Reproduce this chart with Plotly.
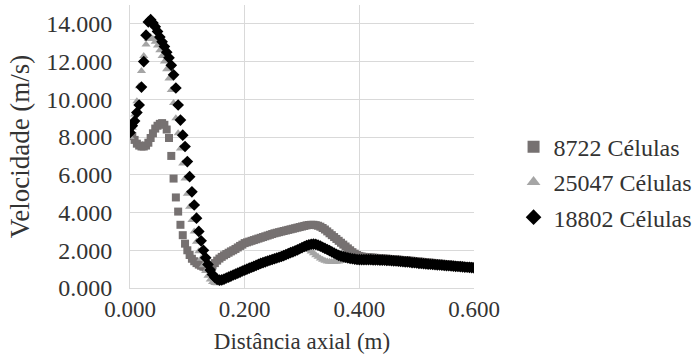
import plotly.graph_objects as go

x_axial = [0.000, 0.004, 0.008, 0.012, 0.016, 0.020, 0.024, 0.028, 0.032, 0.036,
           0.040, 0.044, 0.048, 0.052, 0.056, 0.060, 0.064, 0.068, 0.072, 0.076,
           0.080, 0.084, 0.088, 0.092, 0.096, 0.100, 0.104, 0.108, 0.112, 0.116,
           0.120, 0.124, 0.128, 0.132, 0.136, 0.140, 0.144, 0.148, 0.152, 0.156,
           0.160, 0.164, 0.168, 0.172, 0.176, 0.180, 0.184, 0.188, 0.192, 0.196,
           0.200, 0.204, 0.208, 0.212, 0.216, 0.220, 0.224, 0.228, 0.232, 0.236,
           0.240, 0.244, 0.248, 0.252, 0.256, 0.260, 0.264, 0.268, 0.272, 0.276,
           0.280, 0.284, 0.288, 0.292, 0.296, 0.300, 0.304, 0.308, 0.312, 0.316,
           0.320, 0.324, 0.328, 0.332, 0.336, 0.340, 0.344, 0.348, 0.352, 0.356,
           0.360, 0.364, 0.368, 0.372, 0.376, 0.380, 0.384, 0.388, 0.392, 0.396,
           0.400, 0.404, 0.408, 0.412, 0.416, 0.420, 0.424, 0.428, 0.432, 0.436,
           0.440, 0.444, 0.448, 0.452, 0.456, 0.460, 0.464, 0.468, 0.472, 0.476,
           0.480, 0.484, 0.488, 0.492, 0.496, 0.500, 0.504, 0.508, 0.512, 0.516,
           0.520, 0.524, 0.528, 0.532, 0.536, 0.540, 0.544, 0.548, 0.552, 0.556,
           0.560, 0.564, 0.568, 0.572, 0.576, 0.580, 0.584, 0.588, 0.592, 0.596,
           0.600]

v_8722 = [8.25, 8.05, 7.85, 7.65, 7.55, 7.5, 7.5, 7.55, 7.7, 7.95,
          8.2, 8.45, 8.6, 8.7, 8.74, 8.65, 8.4, 7.95, 7.0, 5.8,
          4.8, 4.05, 3.35, 2.8, 2.35, 2.0, 1.75, 1.55, 1.42, 1.32,
          1.24, 1.18, 1.13, 1.1, 1.1, 1.12, 1.2, 1.32, 1.45, 1.56,
          1.65, 1.73, 1.8, 1.87, 1.94, 2.0, 2.07, 2.15, 2.23, 2.3,
          2.38, 2.42, 2.46, 2.5, 2.54, 2.58, 2.62, 2.66, 2.7, 2.74,
          2.78, 2.82, 2.86, 2.9, 2.93, 2.96, 2.99, 3.02, 3.05, 3.08,
          3.11, 3.14, 3.17, 3.2, 3.23, 3.26, 3.29, 3.32, 3.34, 3.35,
          3.35, 3.33, 3.3, 3.25, 3.18, 3.1, 3.0, 2.9, 2.8, 2.7,
          2.6, 2.5, 2.4, 2.3, 2.2, 2.1, 2.0, 1.9, 1.82, 1.75,
          1.7, 1.67, 1.65, 1.64, 1.63, 1.62, 1.61, 1.6, 1.59, 1.58,
          1.57, 1.56, 1.55, 1.54, 1.53, 1.52, 1.51, 1.5, 1.49, 1.48,
          1.47, 1.46, 1.45, 1.44, 1.42, 1.41, 1.4, 1.39, 1.38, 1.36,
          1.35, 1.34, 1.33, 1.31, 1.3, 1.29, 1.28, 1.26, 1.25, 1.24,
          1.23, 1.21, 1.2, 1.19, 1.18, 1.17, 1.16, 1.15, 1.14, 1.13,
          1.12]

v_25047 = [8.0, 8.5, 9.2, 9.9, 10.7, 11.5, 12.3, 12.9, 13.2, 13.3,
           13.2, 13.05, 12.85, 12.6, 12.3, 12.0, 11.6, 11.1, 10.5, 9.8,
           9.0, 8.2, 7.4, 6.6, 5.8, 5.0, 4.3, 3.6, 3.0, 2.45,
           1.95, 1.55, 1.2, 0.9, 0.65, 0.45, 0.32, 0.26, 0.25, 0.29,
           0.35, 0.41, 0.46, 0.52, 0.57, 0.63, 0.68, 0.73, 0.78, 0.84,
           0.89, 0.94, 0.99, 1.04, 1.09, 1.14, 1.19, 1.24, 1.28, 1.33,
           1.37, 1.41, 1.45, 1.49, 1.53, 1.57, 1.61, 1.66, 1.71, 1.76,
           1.81, 1.86, 1.91, 1.96, 2.01, 2.05, 2.08, 2.07, 2.02, 1.94,
           1.84, 1.74, 1.65, 1.57, 1.5, 1.45, 1.41, 1.39, 1.38, 1.38,
           1.39, 1.41, 1.43, 1.45, 1.46, 1.47, 1.47, 1.48, 1.48, 1.48,
           1.48, 1.48, 1.48, 1.48, 1.48, 1.48, 1.47, 1.47, 1.47, 1.46,
           1.46, 1.45, 1.44, 1.44, 1.43, 1.42, 1.41, 1.4, 1.39, 1.38,
           1.37, 1.36, 1.35, 1.33, 1.32, 1.31, 1.29, 1.28, 1.27, 1.26,
           1.25, 1.24, 1.23, 1.22, 1.21, 1.2, 1.19, 1.18, 1.17, 1.16,
           1.15, 1.14, 1.13, 1.12, 1.11, 1.1, 1.09, 1.08, 1.07, 1.06,
           1.05]

v_18802 = [8.24, 8.6, 8.85, 9.3, 9.7, 10.65, 12.0, 13.4, 14.1, 14.22,
           14.05, 13.85, 13.6, 13.3, 13.05, 12.8, 12.5, 12.2, 11.8, 11.3,
           10.6, 9.7, 8.9, 8.1, 7.5, 6.7, 5.9, 5.1, 4.4, 3.7,
           3.0, 2.5, 2.0, 1.6, 1.25, 0.95, 0.72, 0.56, 0.46, 0.42,
           0.43, 0.47, 0.53, 0.58, 0.63, 0.69, 0.74, 0.79, 0.84, 0.9,
           0.95, 1.0, 1.05, 1.1, 1.15, 1.2, 1.25, 1.3, 1.34, 1.39,
           1.43, 1.47, 1.51, 1.55, 1.59, 1.63, 1.67, 1.72, 1.77, 1.82,
           1.87, 1.92, 1.97, 2.02, 2.08, 2.14, 2.2, 2.25, 2.29, 2.32,
           2.33, 2.31, 2.27, 2.22, 2.16, 2.1, 2.04, 1.98, 1.92, 1.85,
           1.79, 1.73, 1.69, 1.66, 1.63, 1.6, 1.57, 1.55, 1.53, 1.51,
           1.5, 1.5, 1.5, 1.5, 1.5, 1.5, 1.49, 1.49, 1.49, 1.48,
           1.48, 1.47, 1.46, 1.46, 1.45, 1.44, 1.43, 1.42, 1.41, 1.4,
           1.39, 1.38, 1.37, 1.35, 1.34, 1.33, 1.31, 1.3, 1.29, 1.28,
           1.27, 1.26, 1.25, 1.24, 1.23, 1.22, 1.21, 1.2, 1.19, 1.18,
           1.17, 1.16, 1.15, 1.14, 1.13, 1.12, 1.11, 1.1, 1.09, 1.08,
           1.07]

series_names = ["8722 Células", "25047 Células", "18802 Células"]
series_values = [v_8722, v_25047, v_18802]
series_symbols = ["square", "triangle-up", "diamond"]
series_colors = ["#767171", "#a5a5a5", "#000000"]
series_sizes = [8, 8, 9]

x_ticks = [0.0, 0.2, 0.4, 0.6]
y_ticks = [0, 2, 4, 6, 8, 10, 12, 14]

FONT = "Times New Roman, Liberation Serif, serif"
TXT = "#333333"

fig = go.Figure()
for i, (name, vals) in enumerate(zip(series_names, series_values)):
    fig.add_trace(go.Scatter(
        x=x_axial, y=vals, mode="markers", name=name, legendgroup=f"g{i}",
        marker=dict(symbol=series_symbols[i], color=series_colors[i],
                    size=series_sizes[i], line=dict(width=0)),
    ))

fig.update_layout(
    width=695, height=358,
    margin=dict(l=130, r=221, t=5, b=70, autoexpand=False),
    paper_bgcolor="white", plot_bgcolor="white",
    font=dict(family=FONT, size=23, color=TXT),
    showlegend=True,
    legend=dict(x=1.115, xanchor="left", y=0.374, yanchor="middle",
                font=dict(family=FONT, size=24, color=TXT),
                tracegroupgap=1, itemsizing="constant",
                bgcolor="rgba(0,0,0,0)"),
    xaxis=dict(range=[0, 0.6], tickvals=x_ticks, tickformat=".3f",
               showgrid=True, gridcolor="#d9d9d9", gridwidth=1,
               showline=True, linecolor="#d9d9d9", linewidth=1,
               zeroline=False, ticks="", automargin=False,
               title=dict(text="Distância axial (m)", standoff=12,
                          font=dict(family=FONT, size=23, color=TXT)),
               tickfont=dict(family=FONT, size=23, color=TXT)),
    yaxis=dict(range=[0, 15], tickvals=y_ticks, tickformat=".3f",
               showgrid=True, gridcolor="#d9d9d9", gridwidth=1,
               showline=True, linecolor="#d9d9d9", linewidth=1,
               zeroline=False, ticks="", automargin=False,
               ticklabelstandoff=12,
               title=dict(text="Velocidade (m/s)", standoff=8,
                          font=dict(family=FONT, size=27, color=TXT)),
               tickfont=dict(family=FONT, size=24, color=TXT)),
)

fig.write_html("out.html", config={"displayModeBar": False},
               post_script="document.body.style.margin='0px';")
